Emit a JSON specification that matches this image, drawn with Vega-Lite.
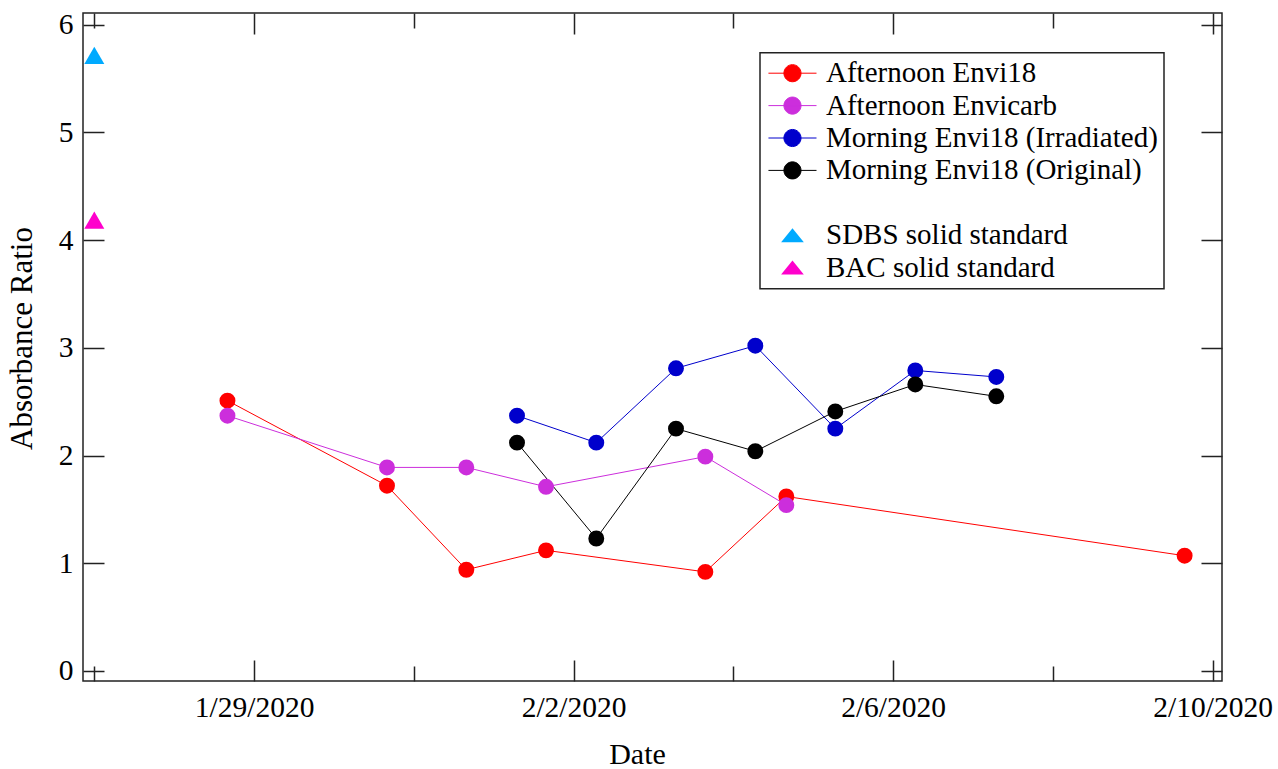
{
  "$schema": "https://vega.github.io/schema/vega-lite/v6.json",
  "width": 1139,
  "height": 668,
  "autosize": "none",
  "padding": {"left": 83, "top": 13, "right": 56, "bottom": 88},
  "background": "white",
  "config": {
    "view": {"stroke": "#222222", "strokeWidth": 1.5},
    "font": "Liberation Serif"
  },
  "data": {
    "values": [
      {"series": "Afternoon Envi18", "date": "2020-01-28T16:00:00", "ratio": 2.51},
      {"series": "Afternoon Envi18", "date": "2020-01-30T15:56:00", "ratio": 1.72},
      {"series": "Afternoon Envi18", "date": "2020-01-31T15:46:00", "ratio": 0.94},
      {"series": "Afternoon Envi18", "date": "2020-02-01T15:43:00", "ratio": 1.12},
      {"series": "Afternoon Envi18", "date": "2020-02-03T15:35:00", "ratio": 0.92},
      {"series": "Afternoon Envi18", "date": "2020-02-04T15:55:00", "ratio": 1.62},
      {"series": "Afternoon Envi18", "date": "2020-02-09T15:35:00", "ratio": 1.07},
      {"series": "Afternoon Envicarb", "date": "2020-01-28T16:00:00", "ratio": 2.37},
      {"series": "Afternoon Envicarb", "date": "2020-01-30T15:56:00", "ratio": 1.89},
      {"series": "Afternoon Envicarb", "date": "2020-01-31T15:46:00", "ratio": 1.89},
      {"series": "Afternoon Envicarb", "date": "2020-02-01T15:43:00", "ratio": 1.71},
      {"series": "Afternoon Envicarb", "date": "2020-02-03T15:35:00", "ratio": 1.99},
      {"series": "Afternoon Envicarb", "date": "2020-02-04T15:55:00", "ratio": 1.54},
      {"series": "Morning Envi18 (Irradiated)", "date": "2020-02-01T07:00:00", "ratio": 2.37},
      {"series": "Morning Envi18 (Irradiated)", "date": "2020-02-02T06:49:00", "ratio": 2.12},
      {"series": "Morning Envi18 (Irradiated)", "date": "2020-02-03T06:46:00", "ratio": 2.81},
      {"series": "Morning Envi18 (Irradiated)", "date": "2020-02-04T06:36:00", "ratio": 3.02},
      {"series": "Morning Envi18 (Irradiated)", "date": "2020-02-05T06:38:00", "ratio": 2.25},
      {"series": "Morning Envi18 (Irradiated)", "date": "2020-02-06T06:40:00", "ratio": 2.79},
      {"series": "Morning Envi18 (Irradiated)", "date": "2020-02-07T07:00:00", "ratio": 2.73},
      {"series": "Morning Envi18 (Original)", "date": "2020-02-01T07:00:00", "ratio": 2.12},
      {"series": "Morning Envi18 (Original)", "date": "2020-02-02T06:49:00", "ratio": 1.23},
      {"series": "Morning Envi18 (Original)", "date": "2020-02-03T06:46:00", "ratio": 2.25},
      {"series": "Morning Envi18 (Original)", "date": "2020-02-04T06:36:00", "ratio": 2.04},
      {"series": "Morning Envi18 (Original)", "date": "2020-02-05T06:38:00", "ratio": 2.41},
      {"series": "Morning Envi18 (Original)", "date": "2020-02-06T06:40:00", "ratio": 2.66},
      {"series": "Morning Envi18 (Original)", "date": "2020-02-07T07:00:00", "ratio": 2.55},
      {"series": "SDBS solid standard", "date": "2020-01-27T00:00:00", "ratio": 5.716},
      {"series": "BAC solid standard", "date": "2020-01-27T00:00:00", "ratio": 4.186}
    ]
  },
  "encoding": {
    "x": {
      "field": "date",
      "type": "temporal",
      "title": "Date",
      "scale": {
        "nice": false,
        "domain": [
          {"year": 2020, "month": 1, "date": 26, "hours": 20, "minutes": 36},
          {"year": 2020, "month": 2, "date": 10, "hours": 2, "minutes": 49}
        ]
      },
      "axis": {
        "values": [
          {"year": 2020, "month": 1, "date": 27},
          {"year": 2020, "month": 1, "date": 29},
          {"year": 2020, "month": 1, "date": 31},
          {"year": 2020, "month": 2, "date": 2},
          {"year": 2020, "month": 2, "date": 4},
          {"year": 2020, "month": 2, "date": 6},
          {"year": 2020, "month": 2, "date": 8},
          {"year": 2020, "month": 2, "date": 10}
        ],
        "labelExpr": "(month(datum.value) == 0 && date(datum.value) == 29) || (month(datum.value) == 1 && date(datum.value) % 4 == 2) ? timeFormat(datum.value, '%-m/%-d/%Y') : ''",
        "labelOverlap": false,
        "labelFlush": false,
        "labelFont": "Liberation Serif",
        "labelFontSize": 29.5,
        "labelColor": "black",
        "labelPadding": 12,
        "domain": false,
        "ticks": false,
        "grid": true,
        "gridColor": "#222222",
        "gridOpacity": 1,
        "gridWidth": 1.5,
        "gridDash": {
          "condition": {
            "test": "(month(datum.value) == 0 && date(datum.value) == 29) || (month(datum.value) == 1 && date(datum.value) % 4 == 2)",
            "value": [21, 626, 21, 5000]
          },
          "value": [15, 638, 15, 5000]
        },
        "titleFont": "Liberation Serif",
        "titleFontSize": 30,
        "titleFontWeight": "normal",
        "titleColor": "black",
        "titlePadding": 18,
        "titleX": 554
      }
    },
    "y": {
      "field": "ratio",
      "type": "quantitative",
      "title": "Absorbance Ratio",
      "scale": {"domain": [-0.093, 6.109], "nice": false, "zero": false},
      "axis": {
        "values": [0, 1, 2, 3, 4, 5, 6],
        "labelFont": "Liberation Serif",
        "labelFontSize": 29.5,
        "labelColor": "black",
        "labelPadding": 10,
        "domain": false,
        "ticks": false,
        "grid": true,
        "gridColor": "#222222",
        "gridOpacity": 1,
        "gridWidth": 1.5,
        "gridDash": [21, 1097, 21, 5000],
        "titleFont": "Liberation Serif",
        "titleFontSize": 31,
        "titleFontWeight": "normal",
        "titleColor": "black",
        "titlePadding": 20,
        "titleY": 325
      }
    },
    "color": {
      "field": "series",
      "type": "nominal",
      "scale": {
        "domain": [
          "Afternoon Envi18",
          "Afternoon Envicarb",
          "Morning Envi18 (Irradiated)",
          "Morning Envi18 (Original)",
          " ",
          "SDBS solid standard",
          "BAC solid standard"
        ],
        "range": ["#ff0000", "#cc2edc", "#0000cc", "#000000", "rgba(0,0,0,0)", "#00aaff", "#ff00cc"]
      },
      "legend": {
        "title": null,
        "orient": "none",
        "legendX": 677,
        "legendY": 39.7,
        "padding": 6,
        "strokeColor": "#222222",
        "fillColor": "white",
        "labelFont": "Liberation Serif",
        "labelFontSize": 29,
        "labelColor": "black",
        "labelLimit": 0,
        "labelOffset": 31,
        "rowPadding": 2.4,
        "symbolSize": 324,
        "symbolType": "circle",
        "encode": {
          "legend": {
            "update": {"strokeWidth": {"value": 1.5}}
          },
          "symbols": {
            "update": {
              "shape": {"signal": "datum.value == 'SDBS solid standard' || datum.value == 'BAC solid standard' ? 'M1.33,-0.78L2.59,0.78L0.07,0.78Z' : 'M-1.34,0L4,0M0.38,0A0.95,0.95 0 1,1 2.28,0A0.95,0.95 0 1,1 0.38,0'"},
              "fill": {"scale": "color", "field": "value"},
              "stroke": {"scale": "color", "field": "value"},
              "strokeWidth": {"signal": "datum.value == 'SDBS solid standard' || datum.value == 'BAC solid standard' ? 0 : 1"},
              "opacity": {"value": 1}
            }
          }
        }
      }
    }
  },
  "layer": [
    {
      "transform": [{"filter": {"field": "series", "oneOf": ["Afternoon Envi18", "Afternoon Envicarb", "Morning Envi18 (Irradiated)", "Morning Envi18 (Original)"]}}],
      "mark": {"type": "line", "strokeWidth": 1}
    },
    {
      "transform": [{"filter": {"field": "series", "oneOf": ["Afternoon Envi18", "Afternoon Envicarb", "Morning Envi18 (Irradiated)", "Morning Envi18 (Original)"]}}],
      "mark": {"type": "point", "shape": "circle", "filled": true, "size": 254, "opacity": 1}
    },
    {
      "transform": [{"filter": {"field": "series", "oneOf": ["SDBS solid standard", "BAC solid standard"]}}],
      "mark": {"type": "point", "shape": "triangle-up", "filled": true, "size": 400, "opacity": 1}
    }
  ]
}
